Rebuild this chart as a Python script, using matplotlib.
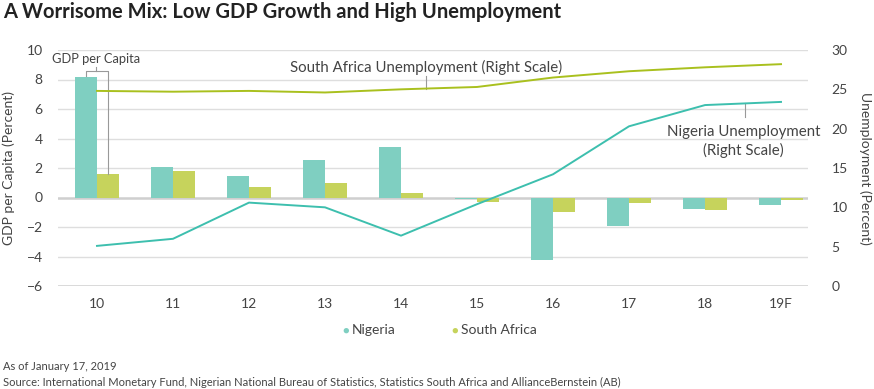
import matplotlib.pyplot as plt
import numpy as np

plt.rcParams['font.family'] = ['Lato', 'DejaVu Sans']

years = ['10', '11', '12', '13', '14', '15', '16', '17', '18', '19F']
nigeria_gdp = [8.2, 2.05, 1.45, 2.55, 3.45, -0.1, -4.25, -1.9, -0.8, -0.5]
sa_gdp = [1.6, 1.8, 0.7, 0.95, 0.3, -0.3, -1.0, -0.35, -0.85, -0.2]
nigeria_unemp = [5.1, 6.0, 10.6, 10.0, 6.4, 10.4, 14.2, 20.3, 23.0, 23.4]
sa_unemp = [24.8, 24.7, 24.8, 24.6, 25.0, 25.3, 26.5, 27.3, 27.8, 28.2]

teal_bar = '#7fcfc1'
lime_bar = '#c6d35c'
teal_line = '#3dbfae'
lime_line = '#a9c01e'
txt = '#444444'
fs = 10
afs = 10.8

fig = plt.figure(figsize=(8.74, 3.89), dpi=100)
ax = fig.add_axes([58 / 874, 1 - 286 / 389, 750 / 874, 236 / 389])
ax2 = ax.twinx()

x = np.arange(len(years))
w = 0.29
ax.bar(x - w / 2, nigeria_gdp, w, color=teal_bar, zorder=3)
ax.bar(x + w / 2, sa_gdp, w, color=lime_bar, zorder=3)

ax.set_ylim(-6, 10)
ax.set_yticks(range(-6, 11, 2))
ax.set_yticklabels([('\u2212' + str(-v)) if v < 0 else str(v) for v in range(-6, 11, 2)])
ax.set_xlim(-0.513, 9.355)
ax.set_xticks(x)
ax.set_xticklabels(years)
for v in range(-6, 11, 2):
    lw = 1.8 if v in (0, -6) else 1.0
    c = '#cfcfcf' if v in (0, -6) else '#dedede'
    ax.axhline(v, color=c, lw=lw, zorder=1)

ax2.plot(x, nigeria_unemp, color=teal_line, lw=1.4, zorder=4)
ax2.plot(x, sa_unemp, color=lime_line, lw=1.4, zorder=4)
ax2.set_ylim(0, 30)
ax2.set_yticks(range(0, 31, 5))

for a in (ax, ax2):
    for s in a.spines.values():
        s.set_visible(False)
    a.tick_params(length=0, labelsize=fs, colors=txt)
ax.tick_params(axis='y', pad=11)
ax.tick_params(axis='x', pad=9)
ax2.tick_params(axis='y', pad=17)

ax.set_ylabel('GDP per Capita (Percent)', fontsize=fs, color=txt, labelpad=8)
ax2.set_ylabel('Unemployment (Percent)', fontsize=fs, color=txt, rotation=270, labelpad=17)

# annotations
ax.text(-0.01, 8.95, 'GDP per Capita', fontsize=9.3, color=txt, ha='center', va='bottom')
by = 8.6
ax.plot([-0.15, -0.15, 0.14, 0.14], [8.25, by, by, 1.62], color='#999999', lw=0.8, zorder=5)
ax.plot([-0.01, -0.01], [by, 8.85], color='#999999', lw=0.8, zorder=5)

ax2.text(4.33, 26.85, 'South Africa Unemployment (Right Scale)', fontsize=afs, color=txt, ha='center',
         va='bottom')
ax2.plot([4.33, 4.33], [25.1, 26.75], color='#999999', lw=0.8)

ax2.text(8.51, 16.3, 'Nigeria Unemployment\n(Right Scale)', fontsize=afs, color=txt, ha='center', va='bottom',
         linespacing=1.3)
ax2.plot([8.53, 8.53], [21.5, 23.25], color='#999999', lw=0.8)

# legend
fig.text(346 / 874, 1 - 330 / 389, '\u25cf', color=teal_bar, fontsize=8, ha='center', va='center')
fig.text(352 / 874, 1 - 330 / 389, 'Nigeria', color=txt, fontsize=fs, ha='left', va='center')
fig.text(455 / 874, 1 - 330 / 389, '\u25cf', color=lime_bar, fontsize=8, ha='center', va='center')
fig.text(461 / 874, 1 - 330 / 389, 'South Africa', color=txt, fontsize=fs, ha='left', va='center')

fig.text(3 / 874, 1 - 12 / 389, 'A Worrisome Mix: Low GDP Growth and High Unemployment', fontsize=14.5,
         fontweight='bold', color='#222222', ha='left', va='center')
fig.text(3 / 874, 1 - 366 / 389, 'As of January 17, 2019', fontsize=8, color=txt, ha='left', va='center')
fig.text(3 / 874, 1 - 382 / 389,
         'Source: International Monetary Fund, Nigerian National Bureau of Statistics, Statistics South Africa and AllianceBernstein (AB)',
         fontsize=8, color=txt, ha='left', va='center')

fig.savefig('out.png', dpi=100)
